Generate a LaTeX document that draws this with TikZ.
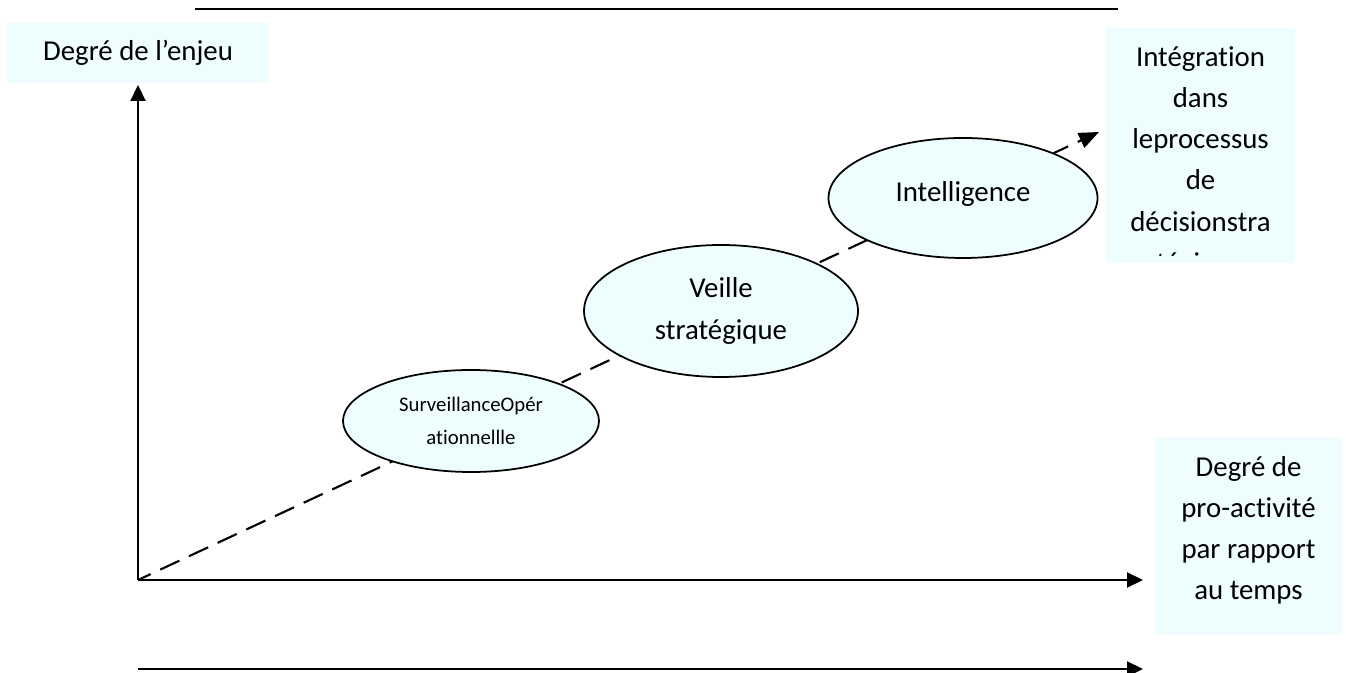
\documentclass[tikz,border=0pt]{standalone}
\usepackage{fontspec}
\setmainfont{Carlito}[Ligatures={TeX,NoCommon}]
\usepackage{tikz}
\usetikzlibrary{arrows.meta,shapes.geometric}
\definecolor{paleblue}{RGB}{238,254,255}

\tikzset{
  bigtext/.style={font=\fontsize{8.2}{11.7}\selectfont},
  smalltext/.style={font=\fontsize{5.9}{9.4}\selectfont},
  labelbox/.style={fill=paleblue, inner sep=0pt},
  stage/.style={ellipse, draw, fill=paleblue, line width=0.5pt, inner sep=0pt, align=center},
}

\begin{document}
\begin{tikzpicture}[>={Triangle[length=0.16cm,width=0.15cm]}]
      \useasboundingbox (-1.38,-0.93) rectangle (12.08,5.80);

      % origin of the axes
      \coordinate (o) at (0,0);

      % line at the top
      \coordinate (topl) at (0.57,5.71);
      \coordinate (topr) at (9.80,5.71);
      \draw [semithick] (topl) -- (topr);

      % enjeu axis
      \node[labelbox, bigtext, minimum width=2.61cm, minimum height=0.60cm](enjeu) at (0,5.27){Degré de l’enjeu};
      \coordinate (ytip) at (0,4.95);
      \draw [semithick, ->] (o) -- (ytip);

      % pro-activite axis
      \coordinate (xtip) at (10.05,0);
      \draw [semithick, ->] (o) -- (xtip);
      \node[labelbox, minimum width=1.87cm, minimum height=1.98cm](proact) at (11.105,0.44){};
      \node[bigtext, align=center, inner sep=0pt](proacttxt) at (11.105,0.50){Degré de\\pro-activité\\par rapport\\au temps};

      % time arrow
      \coordinate (tl) at (0,-0.89);
      \coordinate (tr) at (10.05,-0.89);
      \draw [semithick, ->] (tl) -- (tr);

      % the dashed path
      \coordinate (dtip) at (9.61,4.48);
      \draw [semithick, dash pattern=on 6pt off 3pt, dash phase=2pt, -{Triangle[length=0.2cm,width=0.16cm]}] (o) -- (dtip);

      % the three stages
      \node[stage, smalltext, minimum width=2.56cm, minimum height=1.02cm](surv) at (3.33,1.59){SurveillanceOpér\\ationnellle};
      \node[stage, bigtext, minimum width=2.74cm, minimum height=1.32cm](veille) at (5.83,2.69){Veille\\stratégique};
      \node[stage, bigtext, minimum width=2.69cm, minimum height=1.20cm](intel) at (8.25,3.82){\raisebox{0.13cm}{Intelligence}};

      % decision box, text cut near the bottom
      \node[labelbox, minimum width=1.89cm, minimum height=2.35cm](integ) at (10.625,4.345){};
      \coordinate (cut) at (11.57,3.24);
      \begin{scope}
        \clip (integ.north west) rectangle (cut);
        \node[bigtext, align=center, anchor=north, inner sep=0pt](integtxt) at (10.625,5.34){Intégration\\dans\\leprocessus\\de\\décisionstra\\tégique};
      \end{scope}
\end{tikzpicture}
\end{document}
